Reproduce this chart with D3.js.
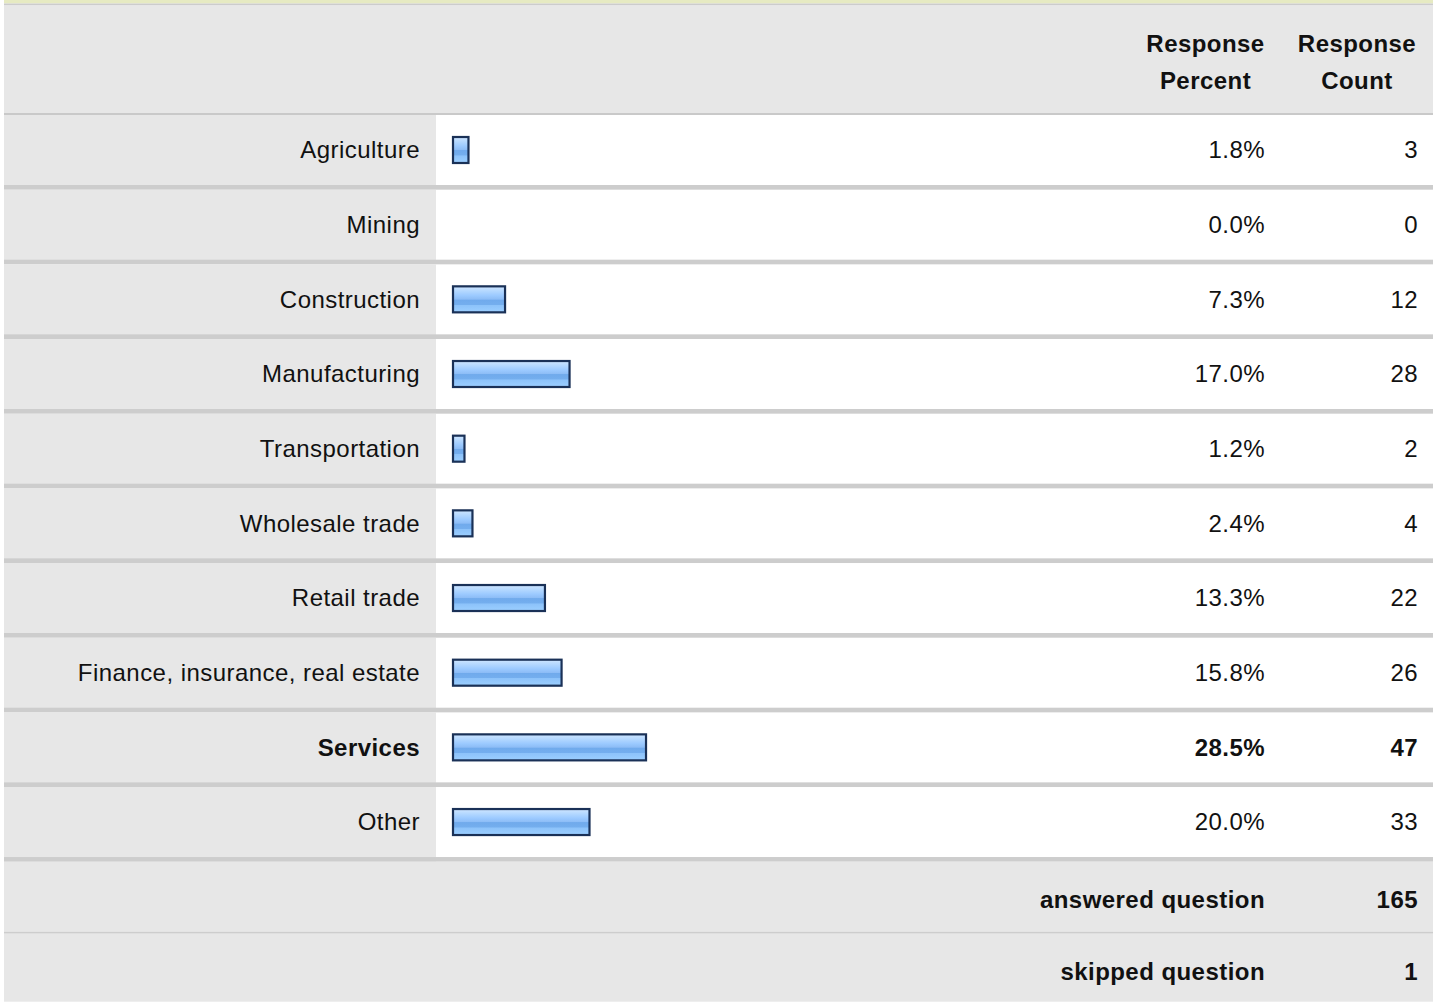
<!DOCTYPE html>
<html>
<head>
<meta charset="utf-8">
<script src="https://cdn.jsdelivr.net/npm/d3@7"></script>
<style>
  body { margin: 0; background: #fff; }
  svg text { font-family: "Liberation Sans", Arial, Helvetica, sans-serif; fill: #111; letter-spacing: 0.45px; }
</style>
</head>
<body>
<svg id="svg"></svg>
<script>
  const categories = ["Agriculture", "Mining", "Construction", "Manufacturing", "Transportation",
    "Wholesale trade", "Retail trade", "Finance, insurance, real estate", "Services", "Other"];
  const percents = [1.8, 0.0, 7.3, 17.0, 1.2, 2.4, 13.3, 15.8, 28.5, 20.0];
  const counts = [3, 0, 12, 28, 2, 4, 22, 26, 47, 33];
  const headerLabels = [["Response", "Percent"], ["Response", "Count"]];
  const summaryLabels = ["answered question", "skipped question"];
  const summaryValues = [165, 1];
  const boldCategory = "Services";

  const width = 1440;
  const height = 1002;
  const tableLeft = 4;
  const tableRight = 1433;
  const labelColRight = 436;
  const pctColLeft = 1130;
  const cntColLeft = 1281;
  const fontSize = 24;

  const svg = d3.select("#svg")
      .attr("width", width)
      .attr("height", height);

  const data = categories.map(function(c, i) {
    return { name: c, pct: percents[i], count: counts[i] };
  });

  // gradient for the bars
  const grad = svg.append("defs").append("linearGradient")
      .attr("id", "barGrad")
      .attr("x1", 0).attr("y1", 0).attr("x2", 0).attr("y2", 1);
  [[0, "#cfe6ff"], [0.18, "#b4d8ff"], [0.35, "#9ccaff"], [0.5, "#8cbcf6"],
   [0.52, "#70aaec"], [0.7, "#74aeee"], [0.72, "#8cc2fa"], [1, "#9ccfff"]]
    .forEach(function(s) {
      grad.append("stop").attr("offset", s[0]).attr("stop-color", s[1]);
    });

  // top strip
  svg.append("rect").attr("x", tableLeft).attr("y", 0)
      .attr("width", tableRight - tableLeft).attr("height", 3.5).attr("fill", "#e6eac2");
  svg.append("rect").attr("x", tableLeft).attr("y", 3.5)
      .attr("width", tableRight - tableLeft).attr("height", 2).attr("fill", "#cccccc");

  // header
  svg.append("rect").attr("x", tableLeft).attr("y", 5.5)
      .attr("width", tableRight - tableLeft).attr("height", 107.5).attr("fill", "#e7e7e7");
  svg.append("rect").attr("x", tableLeft).attr("y", 113)
      .attr("width", tableRight - tableLeft).attr("height", 2).attr("fill", "#c9c9c9");

  const headerCenters = [(pctColLeft + cntColLeft) / 2, (cntColLeft + tableRight) / 2];
  headerLabels.forEach(function(lines, i) {
    lines.forEach(function(t, j) {
      svg.append("text")
          .attr("x", headerCenters[i])
          .attr("y", 44 + j * 37)
          .attr("dy", "0.35em")
          .attr("text-anchor", "middle")
          .attr("font-size", fontSize)
          .attr("font-weight", "bold")
          .text(t);
    });
  });

  // rows
  const rowTop = 115;
  const rowPitch = 74.67;
  const sepH = 4.67;
  const yScale = d3.scaleBand()
      .domain(categories)
      .range([rowTop, rowTop + rowPitch * categories.length]);

  const xScale = d3.scaleLinear()
      .domain([0, 100])
      .range([0, 665]);

  const barLeft = 452;
  const barH = 28;

  const rows = svg.selectAll(".row")
      .data(data)
      .enter().append("g")
      .attr("class", "row")
      .attr("transform", function(d) { return `translate(0, ${yScale(d.name)})`; });

  rows.append("rect")
      .attr("x", tableLeft).attr("y", 0)
      .attr("width", labelColRight - tableLeft)
      .attr("height", rowPitch)
      .attr("fill", "#e7e7e7");

  rows.append("rect")
      .attr("x", tableLeft).attr("y", rowPitch - sepH)
      .attr("width", tableRight - tableLeft)
      .attr("height", sepH)
      .attr("fill", "#cdcdcd");

  const mid = (rowPitch - sepH) / 2;

  rows.append("text")
      .attr("x", 420)
      .attr("y", mid)
      .attr("dy", "0.35em")
      .attr("text-anchor", "end")
      .attr("font-size", fontSize)
      .attr("font-weight", function(d) { return d.name === boldCategory ? "bold" : "normal"; })
      .text(function(d) { return d.name; });

  rows.filter(function(d) { return d.pct > 0; })
      .append("rect")
      .attr("x", barLeft + 1)
      .attr("y", mid - barH / 2 + 1)
      .attr("width", function(d) { return xScale(d.pct) + 5.5 - 2; })
      .attr("height", barH - 2)
      .attr("fill", "url(#barGrad)")
      .attr("stroke", "#1a3157")
      .attr("stroke-width", 2.2);

  rows.append("text")
      .attr("x", 1265)
      .attr("y", mid)
      .attr("dy", "0.35em")
      .attr("text-anchor", "end")
      .attr("font-size", fontSize)
      .attr("font-weight", function(d) { return d.name === boldCategory ? "bold" : "normal"; })
      .text(function(d) { return d.pct.toFixed(1) + "%"; });

  rows.append("text")
      .attr("x", 1418)
      .attr("y", mid)
      .attr("dy", "0.35em")
      .attr("text-anchor", "end")
      .attr("font-size", fontSize)
      .attr("font-weight", function(d) { return d.name === boldCategory ? "bold" : "normal"; })
      .text(function(d) { return d.count; });

  // summary rows
  const sumTop = rowTop + rowPitch * categories.length;
  const sumTops = [sumTop, sumTop + 72];
  const sumH = [70, 68];

  summaryLabels.forEach(function(lbl, i) {
    svg.append("rect").attr("x", tableLeft).attr("y", sumTops[i])
        .attr("width", tableRight - tableLeft).attr("height", sumH[i]).attr("fill", "#e7e7e7");
    if (i === 0) {
      svg.append("rect").attr("x", tableLeft).attr("y", sumTops[i] + sumH[i])
          .attr("width", tableRight - tableLeft).attr("height", 2).attr("fill", "#cdcdcd");
    }
    const cy = sumTops[i] + 38;
    svg.append("text")
        .attr("x", 1265).attr("y", cy).attr("dy", "0.35em")
        .attr("text-anchor", "end").attr("font-size", fontSize).attr("font-weight", "bold")
        .text(lbl);
    svg.append("text")
        .attr("x", 1418).attr("y", cy).attr("dy", "0.35em")
        .attr("text-anchor", "end").attr("font-size", fontSize).attr("font-weight", "bold")
        .text(summaryValues[i]);
  });
</script>
</body>
</html>
